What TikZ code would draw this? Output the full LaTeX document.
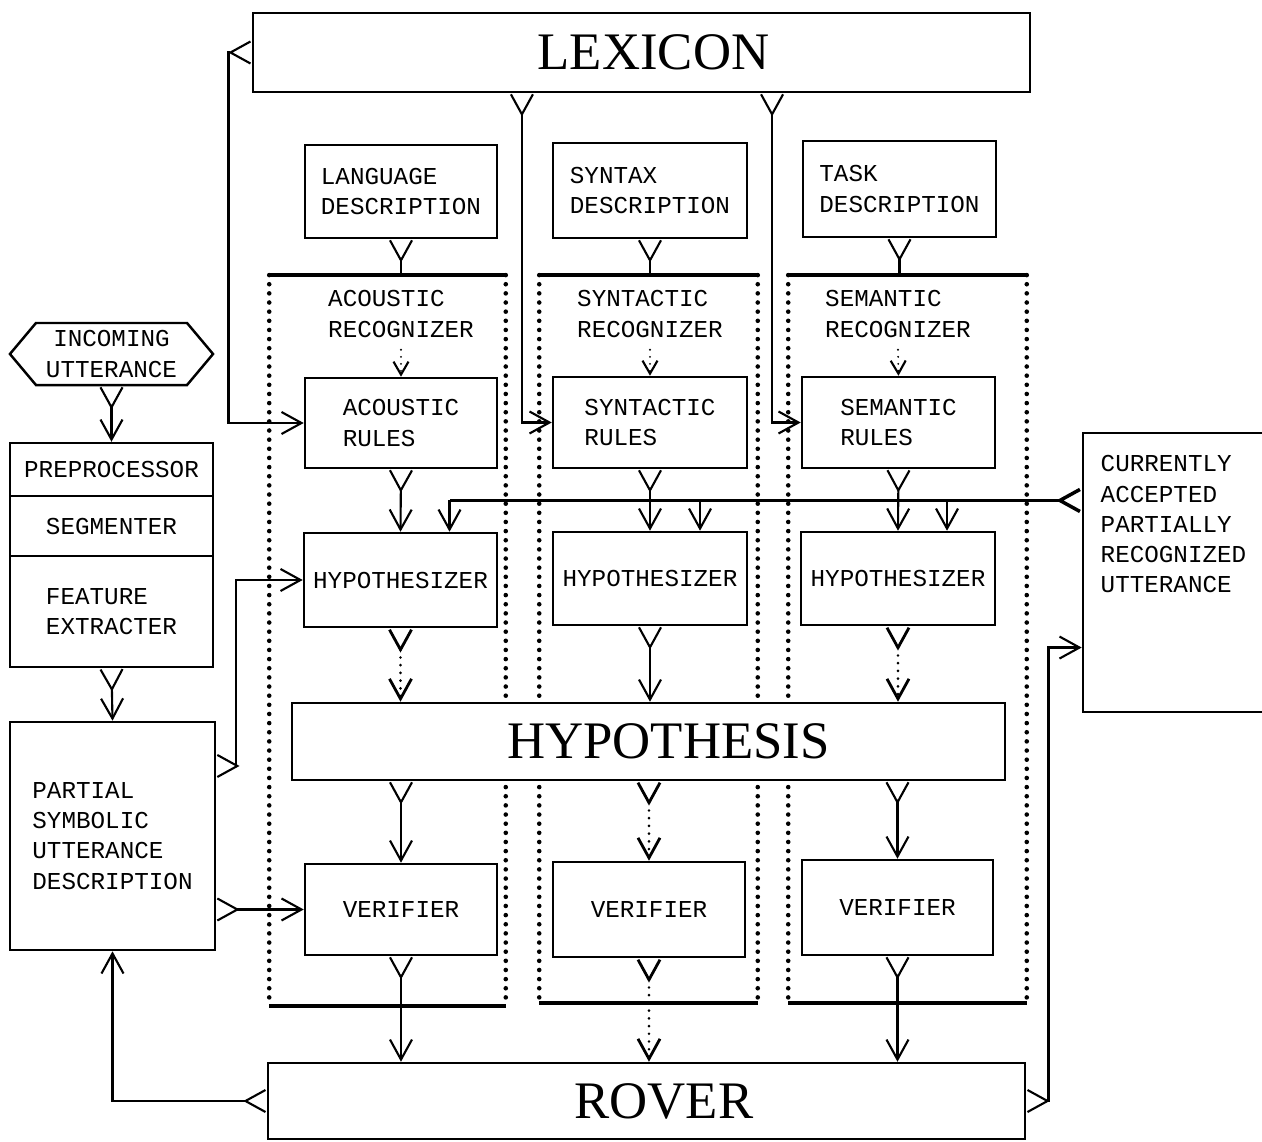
\documentclass[tikz,border=0pt]{standalone}
\usepackage{fontspec}
\setmonofont{Liberation Mono}
\newfontfamily\bigfont{Liberation Serif}
\usetikzlibrary{arrows.meta,shapes.symbols}

\tikzset{
  yfork/.tip={Straight Barb[reversed, length=2mm, width=2.2mm]},
  vhead/.tip={Straight Barb[length=2mm, width=2.2mm]},
  vsmall/.tip={Straight Barb[length=1.3mm, width=1.5mm]}
}

\begin{document}
\begin{tikzpicture}[
  x=0.01cm, y=-0.01cm,
  font=\ttfamily\fontsize{6.9}{8.6}\selectfont,
  box/.style={draw, line width=0.7pt, align=left, inner sep=0pt},
  big/.style={draw, fill=white, line width=0.7pt, inner sep=0pt, font=\bigfont\fontsize{15}{15}\selectfont},
  region/.style={inner sep=0pt},
  regedge/.style={line width=1.3pt},
  regside/.style={line width=1.3pt, line cap=round, dash pattern=on 0pt off 2.6pt},
  conn/.style={line width=0.6pt, yfork-vhead},
  src/.style={line width=0.6pt, yfork-},
  dconn/.style={conn, line width=0.8pt, line cap=round, dash pattern=on 0pt off 2.2pt},
  drop/.style={line width=0.6pt, -vsmall, line cap=round, dash pattern=on 0pt off 2pt},
  feed/.style={line width=0.6pt, -vhead}
]
\useasboundingbox (0,0) rectangle (1262,1142);

% recognizer regions
\node[region, minimum width=2.35cm, minimum height=7.29cm] (acreg) at (387.5,640.5) {};
\node[region, minimum width=2.17cm, minimum height=7.26cm] (synreg) at (648.5,639) {};
\node[region, minimum width=2.37cm, minimum height=7.26cm] (semreg) at (907.5,639) {};
\draw[regedge] (acreg.north west) -- (acreg.north east);
\draw[regedge] (acreg.south west) -- (acreg.south east);
\draw[regside] (acreg.north west) -- (acreg.south west);
\draw[regside] (acreg.north east) -- (acreg.south east);
\draw[regedge] (synreg.north west) -- (synreg.north east);
\draw[regedge] (synreg.south west) -- (synreg.south east);
\draw[regside] (synreg.north west) -- (synreg.south west);
\draw[regside] (synreg.north east) -- (synreg.south east);
\draw[regedge] (semreg.north west) -- (semreg.north east);
\draw[regedge] (semreg.south west) -- (semreg.south east);
\draw[regside] (semreg.north west) -- (semreg.south west);
\draw[regside] (semreg.north east) -- (semreg.south east);

% shared stores
\node[big, minimum width=7.77cm, minimum height=0.79cm] (lexicon) at (641.5,52.5) {\hspace*{0.24cm}LEXICON};
\node[big, minimum width=7.13cm, minimum height=0.77cm] (hyp) at (648.5,741.5) {\hspace*{0.4cm}HYPOTHESIS};
\node[big, minimum width=7.57cm, minimum height=0.76cm] (rover) at (646.5,1101) {\hspace*{0.35cm}ROVER};

% knowledge descriptions
\node[box, minimum width=1.92cm, minimum height=0.93cm] (langdesc) at (401,191.5) {LANGUAGE\\DESCRIPTION};
\node[box, minimum width=1.94cm, minimum height=0.95cm] (syndesc) at (650,190.5) {SYNTAX\\DESCRIPTION};
\node[box, minimum width=1.93cm, minimum height=0.96cm] (taskdesc) at (899.5,189) {TASK\\DESCRIPTION};

\node[align=left] (acrec) at (401,314) {ACOUSTIC\\RECOGNIZER};
\node[align=left] (synrec) at (650,314) {SYNTACTIC\\RECOGNIZER};
\node[align=left] (semrec) at (898,314) {SEMANTIC\\RECOGNIZER};

\node[box, minimum width=1.92cm, minimum height=0.90cm] (acrules) at (401,423) {ACOUSTIC\\RULES};
\node[box, minimum width=1.94cm, minimum height=0.91cm] (synrules) at (650,422.5) {SYNTACTIC\\RULES};
\node[box, minimum width=1.93cm, minimum height=0.91cm] (semrules) at (898.5,422.5) {SEMANTIC\\RULES};

\node[box, minimum width=1.93cm, minimum height=0.94cm] (achyp) at (400.5,580) {HYPOTHESIZER};
\node[box, minimum width=1.94cm, minimum height=0.93cm] (synhyp) at (650,578.5) {HYPOTHESIZER};
\node[box, minimum width=1.94cm, minimum height=0.93cm] (semhyp) at (898,578.5) {HYPOTHESIZER};

\node[box, minimum width=1.92cm, minimum height=0.91cm] (acver) at (401,909.5) {VERIFIER};
\node[box, minimum width=1.92cm, minimum height=0.95cm] (synver) at (649,909.5) {VERIFIER};
\node[box, minimum width=1.91cm, minimum height=0.95cm] (semver) at (897.5,907.5) {VERIFIER};

% signal front end
\node[draw, line width=0.7pt, signal, signal to=west and east, signal pointer angle=100,
  align=center, inner sep=0pt, minimum width=2.03cm, minimum height=0.62cm] (incoming) at (111.5,354) {INCOMING\\UTTERANCE};
\node[box, align=center, minimum width=2.03cm, minimum height=0.53cm] (preproc) at (111.5,469.5) {PREPROCESSOR};
\node[box, align=center, minimum width=2.03cm, minimum height=0.60cm] (segm) at (111.5,526) {SEGMENTER};
\node[box, minimum width=2.03cm, minimum height=1.11cm] (featext) at (111.5,611.5) {FEATURE\\EXTRACTER};
\node[box, minimum width=2.05cm, minimum height=2.28cm] (partial) at (112.5,836) {PARTIAL\\SYMBOLIC\\UTTERANCE\\DESCRIPTION};

% accepted utterance store (runs off the page)
\node[draw, line width=0.7pt, minimum width=2.17cm, minimum height=2.79cm] (accepted) at (1191.5,572.5) {};
\node[align=left, anchor=north west, inner sep=0pt] (acctext) at (1100,455) {CURRENTLY\\ACCEPTED\\PARTIALLY\\RECOGNIZED\\UTTERANCE};

% lexicon outputs
\draw[conn] (lexicon.west) -- ++(-23,0) |- (acrules.west);
\draw[conn] ([xshift=-1.195cm]lexicon.south) |- (synrules.west);
\draw[conn] ([xshift=1.305cm]lexicon.south) |- (semrules.west);

% descriptions into recognizers
\draw[src] (langdesc.south) -- (langdesc.south |- acreg.north);
\draw[src] (syndesc.south) -- (syndesc.south |- synreg.north);
\draw[src] (taskdesc.south) -- (taskdesc.south |- semreg.north);
\draw[drop] (acrec.south) -- (acrules.north);
\draw[drop] (synrec.south) -- (synrules.north);
\draw[drop] (semrec.south) -- (semrules.north);

% rules -> hypothesizers -> hypothesis
\draw[conn] (acrules.south) -- (achyp.north);
\draw[conn] (synrules.south) -- (synhyp.north);
\draw[conn] (semrules.south) -- (semhyp.north);
\draw[dconn] (achyp.south) -- (achyp.south |- hyp.north);
\draw[conn] (synhyp.south) -- (synhyp.south |- hyp.north);
\draw[dconn] (semhyp.south) -- (semhyp.south |- hyp.north);

% hypothesis -> verifiers -> rover
\draw[conn] (hyp.south -| acver.north) -- (acver.north);
\draw[dconn] (hyp.south -| synver.north) -- (synver.north);
\draw[conn] (hyp.south -| semver.north) -- (semver.north);
\draw[conn] (acver.south) -- (acver.south |- rover.north);
\draw[dconn] (synver.south) -- (synver.south |- rover.north);
\draw[conn] (semver.south) -- (semver.south |- rover.north);

% feedback of accepted utterance
\coordinate (fb) at ([yshift=0.72cm]accepted.west);
\draw[src, line width=1pt] (fb) -- ([xshift=0.49cm]achyp.north |- fb);
\draw[feed] ([xshift=0.49cm]achyp.north |- fb) -- ([xshift=0.49cm]achyp.north);
\draw[feed] ([xshift=0.5cm]synhyp.north |- fb) -- ([xshift=0.5cm]synhyp.north);
\draw[feed] ([xshift=0.49cm]semhyp.north |- fb) -- ([xshift=0.49cm]semhyp.north);

% front end chain
\draw[conn] (incoming.south) -- (preproc.north);
\draw[conn] (featext.south) -- (partial.north);
\draw[conn] ([yshift=0.70cm]partial.east) -- ++(20,0) |- (achyp.west);
\draw[conn] (partial.east |- acver.west) -- (acver.west);
\draw[conn] (rover.west) -| (partial.south);
\draw[conn] (rover.east) -- ++(22,0) |- ([yshift=-0.75cm]accepted.west);
\end{tikzpicture}
\end{document}
